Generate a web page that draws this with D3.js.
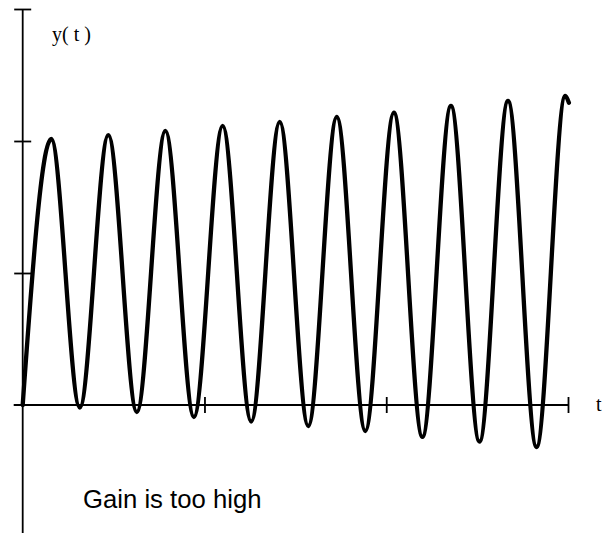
<!DOCTYPE html>
<html>
<head>
<meta charset="utf-8">
<script src="https://cdn.jsdelivr.net/npm/d3@7"></script>
<style>
  html, body { margin: 0; padding: 0; background: #fff; }
  svg { display: block; }
</style>
</head>
<body>
<svg id="chart" width="613" height="533"></svg>
<script>
// Step response of a loop whose gain is too high: peaks and troughs of y(t)
const tValues = [0, 1.57, 3.14, 4.71, 6.28, 7.85, 9.42, 11.0, 12.57, 14.14,
                 15.71, 17.28, 18.85, 20.42, 21.99, 23.56, 25.13, 26.70, 28.27, 29.85, 30.05];
const yValues = [0, 2.015, -0.019, 2.045, -0.053, 2.076, -0.091, 2.114, -0.125, 2.144,
                 -0.159, 2.182, -0.197, 2.214, -0.242, 2.265, -0.277, 2.303, -0.318, 2.341, 2.29];

const xTicks = [10, 20, 30];
const yTicks = [1, 2, 3];

const points = tValues.map((t, i) => ({ t, y: yValues[i] }));

const svg = d3.select("#chart");

const x = d3.scaleLinear().domain([0, 30]).range([22.7, 568]);
const y = d3.scaleLinear().domain([-1, 3]).range([537, 9]);

const axisColor = "#000";

// vertical axis: runs from the top tick down past the time axis
svg.append("line")
  .attr("x1", x(0)).attr("x2", x(0))
  .attr("y1", y(3)).attr("y2", 533)
  .attr("stroke", axisColor).attr("stroke-width", 1.8);

const yAxis = d3.axisLeft(y).tickValues(yTicks).tickFormat("").tickSize(0);
const yg = svg.append("g").attr("transform", `translate(${x(0)},0)`).call(yAxis);
yg.select(".domain").remove();
yg.selectAll(".tick line")
  .attr("x1", -8.5).attr("x2", 8.5)
  .attr("stroke", axisColor).attr("stroke-width", 1.8);

// horizontal time axis
svg.append("line")
  .attr("x1", x(0) - 9).attr("x2", x(30))
  .attr("y1", y(0)).attr("y2", y(0))
  .attr("stroke", axisColor).attr("stroke-width", 1.8);

const xAxis = d3.axisBottom(x).tickValues(xTicks).tickFormat("").tickSize(0);
const xg = svg.append("g").attr("transform", `translate(0,${y(0)})`).call(xAxis);
xg.select(".domain").remove();
xg.selectAll(".tick line")
  .attr("y1", -8).attr("y2", 8)
  .attr("stroke", axisColor).attr("stroke-width", 1.8);

// response curve
const line = d3.line()
  .x(d => x(d.t))
  .y(d => y(d.y))
  .curve(d3.curveMonotoneX);

svg.append("path")
  .datum(points)
  .attr("fill", "none")
  .attr("stroke", "#000")
  .attr("stroke-width", 4.3)
  .attr("stroke-linejoin", "round")
  .attr("stroke-linecap", "round")
  .attr("d", line);

// labels
svg.append("text")
  .attr("x", 52).attr("y", 41)
  .attr("font-family", "'Liberation Serif', 'Times New Roman', serif")
  .attr("font-size", 20)
  .text("y( t )");

svg.append("text")
  .attr("x", 596).attr("y", 410.5)
  .attr("font-family", "'Liberation Serif', 'Times New Roman', serif")
  .attr("font-size", 20)
  .text("t");

svg.append("text")
  .attr("x", 83).attr("y", 507.5)
  .attr("font-family", "'Liberation Sans', Arial, sans-serif")
  .attr("font-size", 25.7)
  .text("Gain is too high");
</script>
</body>
</html>
